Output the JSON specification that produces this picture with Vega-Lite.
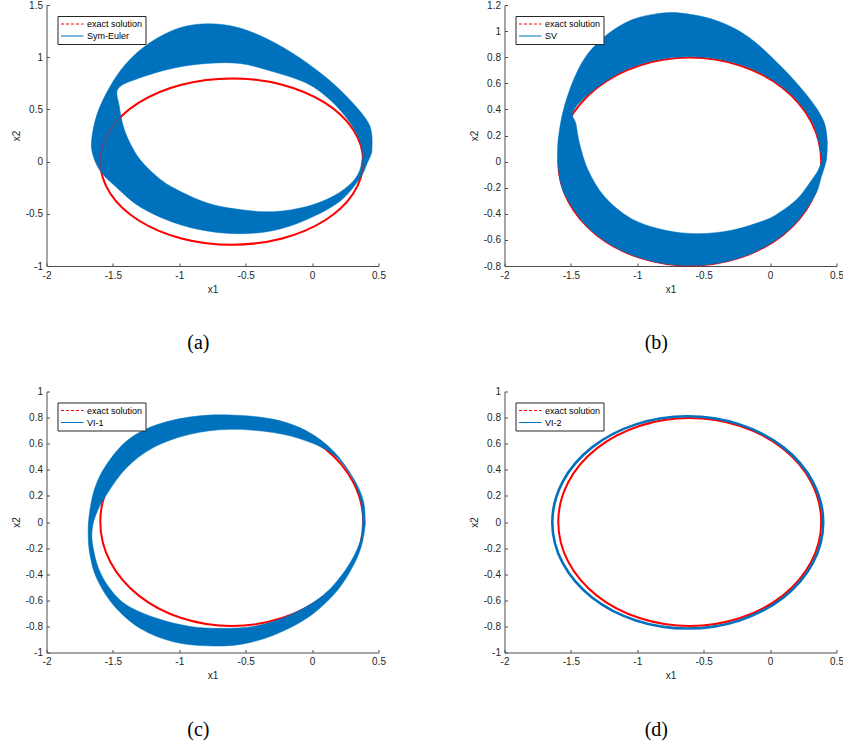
{
  "$schema": "https://vega.github.io/schema/vega-lite/v6.json",
  "background": "white",
  "padding": {"left": 10.5, "top": 0, "right": 0, "bottom": 5},
  "config": {
    "view": {"stroke": null},
    "axis": {
      "domainColor": "#4d4d4d", "tickColor": "#4d4d4d", "tickSize": -3,
      "labelPadding": 7, "labelFont": "Liberation Sans", "labelFontSize": 10,
      "labelColor": "#262626", "labelFlush": false, "labelOverlap": false, "labelBound": false,
      "titleFont": "Liberation Sans", "titleFontSize": 10, "titleFontWeight": "normal",
      "titleColor": "#262626", "titlePadding": 4, "grid": false,
      "labelExpr": "datum.value < 0 ? '-' + format(-datum.value, '~g') : format(datum.value, '~g')"
    },
    "legend": {
      "orient": "none", "legendX": 11, "legendY": 11, "padding": 3, "rowPadding": 2,
      "strokeColor": "#262626", "fillColor": "white", "cornerRadius": 0,
      "labelFont": "Liberation Sans", "labelFontSize": 9, "labelColor": "#000000", "labelOffset": 16.5,
      "symbolType": "M-1,0H4", "symbolSize": 81, "symbolStrokeWidth": 1
    }
  },
  "datasets": {
    "exact": [
      {"k": 0, "x1": 0.385, "x2": 0, "s": "exact solution"},
      {"k": 1, "x1": 0.310, "x2": 0.305, "s": "exact solution"},
      {"k": 2, "x1": 0.095, "x2": 0.564, "s": "exact solution"},
      {"k": 3, "x1": -0.226, "x2": 0.736, "s": "exact solution"},
      {"k": 4, "x1": -0.605, "x2": 0.797, "s": "exact solution"},
      {"k": 5, "x1": -0.984, "x2": 0.736, "s": "exact solution"},
      {"k": 6, "x1": -1.305, "x2": 0.564, "s": "exact solution"},
      {"k": 7, "x1": -1.520, "x2": 0.305, "s": "exact solution"},
      {"k": 8, "x1": -1.595, "x2": 0, "s": "exact solution"},
      {"k": 9, "x1": -1.520, "x2": -0.305, "s": "exact solution"},
      {"k": 10, "x1": -1.305, "x2": -0.564, "s": "exact solution"},
      {"k": 11, "x1": -0.984, "x2": -0.736, "s": "exact solution"},
      {"k": 12, "x1": -0.605, "x2": -0.797, "s": "exact solution"},
      {"k": 13, "x1": -0.226, "x2": -0.736, "s": "exact solution"},
      {"k": 14, "x1": 0.095, "x2": -0.564, "s": "exact solution"},
      {"k": 15, "x1": 0.310, "x2": -0.305, "s": "exact solution"}
    ],
    "bandA": [
      {"k": 0, "x1": 0.45, "x2": 0.10, "s": "Sym-Euler"},
      {"k": 1, "x1": 0.45, "x2": 0.25, "s": "Sym-Euler"},
      {"k": 2, "x1": 0.42, "x2": 0.38, "s": "Sym-Euler"},
      {"k": 3, "x1": 0.30, "x2": 0.57, "s": "Sym-Euler"},
      {"k": 4, "x1": 0.12, "x2": 0.79, "s": "Sym-Euler"},
      {"k": 5, "x1": -0.10, "x2": 1.00, "s": "Sym-Euler"},
      {"k": 6, "x1": -0.33, "x2": 1.17, "s": "Sym-Euler"},
      {"k": 7, "x1": -0.56, "x2": 1.285, "s": "Sym-Euler"},
      {"k": 8, "x1": -0.78, "x2": 1.32, "s": "Sym-Euler"},
      {"k": 9, "x1": -1.00, "x2": 1.28, "s": "Sym-Euler"},
      {"k": 10, "x1": -1.22, "x2": 1.14, "s": "Sym-Euler"},
      {"k": 11, "x1": -1.40, "x2": 0.94, "s": "Sym-Euler"},
      {"k": 12, "x1": -1.53, "x2": 0.70, "s": "Sym-Euler"},
      {"k": 13, "x1": -1.62, "x2": 0.45, "s": "Sym-Euler"},
      {"k": 14, "x1": -1.66, "x2": 0.21, "s": "Sym-Euler"},
      {"k": 15, "x1": -1.65, "x2": 0.06, "s": "Sym-Euler"},
      {"k": 16, "x1": -1.59, "x2": -0.10, "s": "Sym-Euler"},
      {"k": 17, "x1": -1.47, "x2": -0.25, "s": "Sym-Euler"},
      {"k": 18, "x1": -1.30, "x2": -0.43, "s": "Sym-Euler"},
      {"k": 19, "x1": -1.05, "x2": -0.58, "s": "Sym-Euler"},
      {"k": 20, "x1": -0.79, "x2": -0.665, "s": "Sym-Euler"},
      {"k": 21, "x1": -0.54, "x2": -0.69, "s": "Sym-Euler"},
      {"k": 22, "x1": -0.29, "x2": -0.66, "s": "Sym-Euler"},
      {"k": 23, "x1": -0.04, "x2": -0.555, "s": "Sym-Euler"},
      {"k": 24, "x1": 0.21, "x2": -0.38, "s": "Sym-Euler"},
      {"k": 25, "x1": 0.36, "x2": -0.16, "s": "Sym-Euler"},
      {"k": 26, "x1": 0.41, "x2": -0.03, "s": "Sym-Euler"},
      {"k": 27, "x1": 0.45, "x2": 0.10, "s": "Sym-Euler"},
      {"k": 28, "x1": 0.383, "x2": 0.05, "s": "Sym-Euler"},
      {"k": 29, "x1": 0.36, "x2": -0.08, "s": "Sym-Euler"},
      {"k": 30, "x1": 0.30, "x2": -0.20, "s": "Sym-Euler"},
      {"k": 31, "x1": 0.161, "x2": -0.33, "s": "Sym-Euler"},
      {"k": 32, "x1": -0.04, "x2": -0.43, "s": "Sym-Euler"},
      {"k": 33, "x1": -0.291, "x2": -0.48, "s": "Sym-Euler"},
      {"k": 34, "x1": -0.543, "x2": -0.46, "s": "Sym-Euler"},
      {"k": 35, "x1": -0.794, "x2": -0.395, "s": "Sym-Euler"},
      {"k": 36, "x1": -1.045, "x2": -0.25, "s": "Sym-Euler"},
      {"k": 37, "x1": -1.171, "x2": -0.14, "s": "Sym-Euler"},
      {"k": 38, "x1": -1.296, "x2": 0.02, "s": "Sym-Euler"},
      {"k": 39, "x1": -1.372, "x2": 0.18, "s": "Sym-Euler"},
      {"k": 40, "x1": -1.422, "x2": 0.34, "s": "Sym-Euler"},
      {"k": 41, "x1": -1.452, "x2": 0.53, "s": "Sym-Euler"},
      {"k": 42, "x1": -1.46, "x2": 0.70, "s": "Sym-Euler"},
      {"k": 43, "x1": -1.30, "x2": 0.80, "s": "Sym-Euler"},
      {"k": 44, "x1": -1.045, "x2": 0.895, "s": "Sym-Euler"},
      {"k": 45, "x1": -0.794, "x2": 0.94, "s": "Sym-Euler"},
      {"k": 46, "x1": -0.543, "x2": 0.94, "s": "Sym-Euler"},
      {"k": 47, "x1": -0.291, "x2": 0.86, "s": "Sym-Euler"},
      {"k": 48, "x1": -0.04, "x2": 0.75, "s": "Sym-Euler"},
      {"k": 49, "x1": 0.136, "x2": 0.59, "s": "Sym-Euler"},
      {"k": 50, "x1": 0.27, "x2": 0.40, "s": "Sym-Euler"},
      {"k": 51, "x1": 0.355, "x2": 0.21, "s": "Sym-Euler"},
      {"k": 52, "x1": 0.383, "x2": 0.05, "s": "Sym-Euler"}
    ],
    "bandB": [
      {"k": 0, "x1": 0.425, "x2": 0.02, "s": "SV"},
      {"k": 1, "x1": 0.43, "x2": 0.164, "s": "SV"},
      {"k": 2, "x1": 0.40, "x2": 0.318, "s": "SV"},
      {"k": 3, "x1": 0.286, "x2": 0.497, "s": "SV"},
      {"k": 4, "x1": 0.085, "x2": 0.727, "s": "SV"},
      {"k": 5, "x1": -0.166, "x2": 0.957, "s": "SV"},
      {"k": 6, "x1": -0.417, "x2": 1.085, "s": "SV"},
      {"k": 7, "x1": -0.69, "x2": 1.14, "s": "SV"},
      {"k": 8, "x1": -0.87, "x2": 1.13, "s": "SV"},
      {"k": 9, "x1": -1.045, "x2": 1.085, "s": "SV"},
      {"k": 10, "x1": -1.22, "x2": 0.98, "s": "SV"},
      {"k": 11, "x1": -1.37, "x2": 0.83, "s": "SV"},
      {"k": 12, "x1": -1.47, "x2": 0.65, "s": "SV"},
      {"k": 13, "x1": -1.55, "x2": 0.42, "s": "SV"},
      {"k": 14, "x1": -1.59, "x2": 0.215, "s": "SV"},
      {"k": 15, "x1": -1.60, "x2": 0.062, "s": "SV"},
      {"k": 16, "x1": -1.585, "x2": -0.12, "s": "SV"},
      {"k": 17, "x1": -1.535, "x2": -0.273, "s": "SV"},
      {"k": 18, "x1": -1.363, "x2": -0.512, "s": "SV"},
      {"k": 19, "x1": -1.100, "x2": -0.690, "s": "SV"},
      {"k": 20, "x1": -0.777, "x2": -0.785, "s": "SV"},
      {"k": 21, "x1": -0.433, "x2": -0.785, "s": "SV"},
      {"k": 22, "x1": -0.110, "x2": -0.690, "s": "SV"},
      {"k": 23, "x1": 0.153, "x2": -0.512, "s": "SV"},
      {"k": 24, "x1": 0.33, "x2": -0.273, "s": "SV"},
      {"k": 25, "x1": 0.385, "x2": -0.12, "s": "SV"},
      {"k": 26, "x1": 0.425, "x2": 0.02, "s": "SV"},
      {"k": 27, "x1": 0.391, "x2": 0.0, "s": "SV"},
      {"k": 28, "x1": 0.36, "x2": -0.07, "s": "SV"},
      {"k": 29, "x1": 0.30, "x2": -0.16, "s": "SV"},
      {"k": 30, "x1": 0.21, "x2": -0.28, "s": "SV"},
      {"k": 31, "x1": 0.085, "x2": -0.38, "s": "SV"},
      {"k": 32, "x1": -0.04, "x2": -0.45, "s": "SV"},
      {"k": 33, "x1": -0.29, "x2": -0.526, "s": "SV"},
      {"k": 34, "x1": -0.54, "x2": -0.552, "s": "SV"},
      {"k": 35, "x1": -0.79, "x2": -0.526, "s": "SV"},
      {"k": 36, "x1": -1.045, "x2": -0.437, "s": "SV"},
      {"k": 37, "x1": -1.246, "x2": -0.27, "s": "SV"},
      {"k": 38, "x1": -1.37, "x2": -0.066, "s": "SV"},
      {"k": 39, "x1": -1.435, "x2": 0.139, "s": "SV"},
      {"k": 40, "x1": -1.462, "x2": 0.29, "s": "SV"},
      {"k": 41, "x1": -1.485, "x2": 0.378, "s": "SV"},
      {"k": 42, "x1": -1.368, "x2": 0.517, "s": "SV"},
      {"k": 43, "x1": -1.103, "x2": 0.696, "s": "SV"},
      {"k": 44, "x1": -0.778, "x2": 0.791, "s": "SV"},
      {"k": 45, "x1": -0.432, "x2": 0.791, "s": "SV"},
      {"k": 46, "x1": -0.107, "x2": 0.696, "s": "SV"},
      {"k": 47, "x1": 0.157, "x2": 0.517, "s": "SV"},
      {"k": 48, "x1": 0.330, "x2": 0.278, "s": "SV"},
      {"k": 49, "x1": 0.391, "x2": 0.0, "s": "SV"}
    ],
    "bandC": [
      {"k": 0, "x1": 0.40, "x2": -0.02, "s": "VI-1"},
      {"k": 1, "x1": 0.387, "x2": 0.159, "s": "VI-1"},
      {"k": 2, "x1": 0.31, "x2": 0.338, "s": "VI-1"},
      {"k": 3, "x1": 0.16, "x2": 0.544, "s": "VI-1"},
      {"k": 4, "x1": -0.04, "x2": 0.697, "s": "VI-1"},
      {"k": 5, "x1": -0.29, "x2": 0.787, "s": "VI-1"},
      {"k": 6, "x1": -0.618, "x2": 0.82, "s": "VI-1"},
      {"k": 7, "x1": -0.92, "x2": 0.805, "s": "VI-1"},
      {"k": 8, "x1": -1.196, "x2": 0.736, "s": "VI-1"},
      {"k": 9, "x1": -1.397, "x2": 0.62, "s": "VI-1"},
      {"k": 10, "x1": -1.548, "x2": 0.44, "s": "VI-1"},
      {"k": 11, "x1": -1.636, "x2": 0.26, "s": "VI-1"},
      {"k": 12, "x1": -1.678, "x2": 0.056, "s": "VI-1"},
      {"k": 13, "x1": -1.686, "x2": -0.097, "s": "VI-1"},
      {"k": 14, "x1": -1.673, "x2": -0.25, "s": "VI-1"},
      {"k": 15, "x1": -1.623, "x2": -0.43, "s": "VI-1"},
      {"k": 16, "x1": -1.497, "x2": -0.636, "s": "VI-1"},
      {"k": 17, "x1": -1.296, "x2": -0.815, "s": "VI-1"},
      {"k": 18, "x1": -1.045, "x2": -0.918, "s": "VI-1"},
      {"k": 19, "x1": -0.79, "x2": -0.949, "s": "VI-1"},
      {"k": 20, "x1": -0.54, "x2": -0.938, "s": "VI-1"},
      {"k": 21, "x1": -0.29, "x2": -0.867, "s": "VI-1"},
      {"k": 22, "x1": -0.04, "x2": -0.738, "s": "VI-1"},
      {"k": 23, "x1": 0.16, "x2": -0.56, "s": "VI-1"},
      {"k": 24, "x1": 0.286, "x2": -0.38, "s": "VI-1"},
      {"k": 25, "x1": 0.367, "x2": -0.2, "s": "VI-1"},
      {"k": 26, "x1": 0.40, "x2": -0.02, "s": "VI-1"},
      {"k": 27, "x1": 0.382, "x2": 0.005, "s": "VI-1"},
      {"k": 28, "x1": 0.362, "x2": -0.149, "s": "VI-1"},
      {"k": 29, "x1": 0.26, "x2": -0.354, "s": "VI-1"},
      {"k": 30, "x1": 0.085, "x2": -0.56, "s": "VI-1"},
      {"k": 31, "x1": -0.166, "x2": -0.713, "s": "VI-1"},
      {"k": 32, "x1": -0.417, "x2": -0.795, "s": "VI-1"},
      {"k": 33, "x1": -0.668, "x2": -0.815, "s": "VI-1"},
      {"k": 34, "x1": -0.92, "x2": -0.80, "s": "VI-1"},
      {"k": 35, "x1": -1.17, "x2": -0.738, "s": "VI-1"},
      {"k": 36, "x1": -1.397, "x2": -0.636, "s": "VI-1"},
      {"k": 37, "x1": -1.53, "x2": -0.50, "s": "VI-1"},
      {"k": 38, "x1": -1.61, "x2": -0.35, "s": "VI-1"},
      {"k": 39, "x1": -1.648, "x2": -0.20, "s": "VI-1"},
      {"k": 40, "x1": -1.658, "x2": -0.08, "s": "VI-1"},
      {"k": 41, "x1": -1.63, "x2": 0.05, "s": "VI-1"},
      {"k": 42, "x1": -1.548, "x2": 0.21, "s": "VI-1"},
      {"k": 43, "x1": -1.397, "x2": 0.415, "s": "VI-1"},
      {"k": 44, "x1": -1.196, "x2": 0.57, "s": "VI-1"},
      {"k": 45, "x1": -0.92, "x2": 0.672, "s": "VI-1"},
      {"k": 46, "x1": -0.62, "x2": 0.71, "s": "VI-1"},
      {"k": 47, "x1": -0.29, "x2": 0.685, "s": "VI-1"},
      {"k": 48, "x1": -0.04, "x2": 0.62, "s": "VI-1"},
      {"k": 49, "x1": 0.16, "x2": 0.518, "s": "VI-1"},
      {"k": 50, "x1": 0.286, "x2": 0.364, "s": "VI-1"},
      {"k": 51, "x1": 0.362, "x2": 0.185, "s": "VI-1"},
      {"k": 52, "x1": 0.382, "x2": 0.005, "s": "VI-1"}
    ],
    "orbitD": [
      {"k": 0, "x1": 0.40, "x2": -0.003, "s": "VI-2"},
      {"k": 1, "x1": 0.322, "x2": 0.308, "s": "VI-2"},
      {"k": 2, "x1": 0.101, "x2": 0.572, "s": "VI-2"},
      {"k": 3, "x1": -0.230, "x2": 0.748, "s": "VI-2"},
      {"k": 4, "x1": -0.62, "x2": 0.81, "s": "VI-2"},
      {"k": 5, "x1": -1.010, "x2": 0.748, "s": "VI-2"},
      {"k": 6, "x1": -1.341, "x2": 0.572, "s": "VI-2"},
      {"k": 7, "x1": -1.562, "x2": 0.308, "s": "VI-2"},
      {"k": 8, "x1": -1.64, "x2": -0.003, "s": "VI-2"},
      {"k": 9, "x1": -1.562, "x2": -0.314, "s": "VI-2"},
      {"k": 10, "x1": -1.341, "x2": -0.578, "s": "VI-2"},
      {"k": 11, "x1": -1.010, "x2": -0.754, "s": "VI-2"},
      {"k": 12, "x1": -0.62, "x2": -0.816, "s": "VI-2"},
      {"k": 13, "x1": -0.230, "x2": -0.754, "s": "VI-2"},
      {"k": 14, "x1": 0.101, "x2": -0.578, "s": "VI-2"},
      {"k": 15, "x1": 0.322, "x2": -0.314, "s": "VI-2"}
    ]
  },
  "columns": 2,
  "spacing": {"row": 125.5, "column": 126},
  "bounds": "flush",
  "resolve": {"scale": {"color": "independent", "x": "independent", "y": "independent"}, "legend": {"color": "independent"}},
  "concat": [
    {
      "width": 332, "height": 261,
      "title": {"text": "(a)", "orient": "bottom", "font": "Liberation Serif", "fontSize": 20, "fontWeight": "normal", "color": "#000000", "offset": 39, "anchor": "middle", "frame": "bounds"},
      "encoding": {
        "x": {"field": "x1", "type": "quantitative", "scale": {"domain": [-2, 0.5], "nice": false, "zero": false}, "axis": {"title": "x1", "values": [-2, -1.5, -1, -0.5, 0, 0.5]}},
        "y": {"field": "x2", "type": "quantitative", "scale": {"domain": [-1, 1.5], "nice": false, "zero": false}, "axis": {"title": "x2", "values": [-1, -0.5, 0, 0.5, 1, 1.5]}},
        "order": {"field": "k", "type": "quantitative"}
      },
      "layer": [
        {"data": {"name": "exact"}, "mark": {"type": "line", "interpolate": "cardinal-closed", "strokeWidth": 2},
         "encoding": {"color": {"field": "s", "type": "nominal", "scale": {"domain": ["exact solution", "Sym-Euler"], "range": ["#FF0000", "#0072BD"]},
           "legend": {"title": null, "encoding": {"symbols": {"strokeDash": {"condition": {"test": "datum.value === 'exact solution'", "value": [3, 2]}, "value": [1, 0]}, "strokeWidth": {"value": 1}}}}}}},
        {"data": {"name": "bandA"}, "mark": {"type": "line", "interpolate": "cardinal", "fill": "#0072BD", "strokeWidth": 0.5},
         "encoding": {"color": {"field": "s", "type": "nominal", "scale": {"domain": ["exact solution", "Sym-Euler"], "range": ["#FF0000", "#0072BD"]},
           "legend": {"title": null, "encoding": {"symbols": {"strokeDash": {"condition": {"test": "datum.value === 'exact solution'", "value": [3, 2]}, "value": [1, 0]}, "strokeWidth": {"value": 1}}}}}}},
        {"data": {"name": "exact"}, "mark": {"type": "line", "interpolate": "cardinal-closed", "strokeWidth": 1.5, "stroke": "#FF0000", "opacity": 0.35}}
      ]
    },
    {
      "width": 332, "height": 261,
      "title": {"text": "(b)", "orient": "bottom", "font": "Liberation Serif", "fontSize": 20, "fontWeight": "normal", "color": "#000000", "offset": 39, "anchor": "middle", "frame": "bounds"},
      "encoding": {
        "x": {"field": "x1", "type": "quantitative", "scale": {"domain": [-2, 0.5], "nice": false, "zero": false}, "axis": {"title": "x1", "values": [-2, -1.5, -1, -0.5, 0, 0.5]}},
        "y": {"field": "x2", "type": "quantitative", "scale": {"domain": [-0.8, 1.2], "nice": false, "zero": false}, "axis": {"title": "x2", "values": [-0.8, -0.6, -0.4, -0.2, 0, 0.2, 0.4, 0.6, 0.8, 1, 1.2]}},
        "order": {"field": "k", "type": "quantitative"}
      },
      "layer": [
        {"data": {"name": "exact"}, "mark": {"type": "line", "interpolate": "cardinal-closed", "strokeWidth": 2},
         "encoding": {"color": {"field": "s", "type": "nominal", "scale": {"domain": ["exact solution", "SV"], "range": ["#FF0000", "#0072BD"]},
           "legend": {"title": null, "encoding": {"symbols": {"strokeDash": {"condition": {"test": "datum.value === 'exact solution'", "value": [3, 2]}, "value": [1, 0]}, "strokeWidth": {"value": 1}}}}}}},
        {"data": {"name": "bandB"}, "mark": {"type": "line", "interpolate": "cardinal", "fill": "#0072BD", "strokeWidth": 0.5},
         "encoding": {"color": {"field": "s", "type": "nominal", "scale": {"domain": ["exact solution", "SV"], "range": ["#FF0000", "#0072BD"]},
           "legend": {"title": null, "encoding": {"symbols": {"strokeDash": {"condition": {"test": "datum.value === 'exact solution'", "value": [3, 2]}, "value": [1, 0]}, "strokeWidth": {"value": 1}}}}}}}
      ]
    },
    {
      "width": 332, "height": 261,
      "title": {"text": "(c)", "orient": "bottom", "font": "Liberation Serif", "fontSize": 20, "fontWeight": "normal", "color": "#000000", "offset": 39, "anchor": "middle", "frame": "bounds"},
      "encoding": {
        "x": {"field": "x1", "type": "quantitative", "scale": {"domain": [-2, 0.5], "nice": false, "zero": false}, "axis": {"title": "x1", "values": [-2, -1.5, -1, -0.5, 0, 0.5]}},
        "y": {"field": "x2", "type": "quantitative", "scale": {"domain": [-1, 1], "nice": false, "zero": false}, "axis": {"title": "x2", "values": [-1, -0.8, -0.6, -0.4, -0.2, 0, 0.2, 0.4, 0.6, 0.8, 1]}},
        "order": {"field": "k", "type": "quantitative"}
      },
      "layer": [
        {"data": {"name": "exact"}, "mark": {"type": "line", "interpolate": "cardinal-closed", "strokeWidth": 2},
         "encoding": {"color": {"field": "s", "type": "nominal", "scale": {"domain": ["exact solution", "VI-1"], "range": ["#FF0000", "#0072BD"]},
           "legend": {"title": null, "encoding": {"symbols": {"strokeDash": {"condition": {"test": "datum.value === 'exact solution'", "value": [3, 2]}, "value": [1, 0]}, "strokeWidth": {"value": 1}}}}}}},
        {"data": {"name": "bandC"}, "mark": {"type": "line", "interpolate": "cardinal", "fill": "#0072BD", "strokeWidth": 0.5},
         "encoding": {"color": {"field": "s", "type": "nominal", "scale": {"domain": ["exact solution", "VI-1"], "range": ["#FF0000", "#0072BD"]},
           "legend": {"title": null, "encoding": {"symbols": {"strokeDash": {"condition": {"test": "datum.value === 'exact solution'", "value": [3, 2]}, "value": [1, 0]}, "strokeWidth": {"value": 1}}}}}}}
      ]
    },
    {
      "width": 332, "height": 261,
      "title": {"text": "(d)", "orient": "bottom", "font": "Liberation Serif", "fontSize": 20, "fontWeight": "normal", "color": "#000000", "offset": 39, "anchor": "middle", "frame": "bounds"},
      "encoding": {
        "x": {"field": "x1", "type": "quantitative", "scale": {"domain": [-2, 0.5], "nice": false, "zero": false}, "axis": {"title": "x1", "values": [-2, -1.5, -1, -0.5, 0, 0.5]}},
        "y": {"field": "x2", "type": "quantitative", "scale": {"domain": [-1, 1], "nice": false, "zero": false}, "axis": {"title": "x2", "values": [-1, -0.8, -0.6, -0.4, -0.2, 0, 0.2, 0.4, 0.6, 0.8, 1]}},
        "order": {"field": "k", "type": "quantitative"}
      },
      "layer": [
        {"data": {"name": "exact"}, "mark": {"type": "line", "interpolate": "cardinal-closed", "strokeWidth": 2},
         "encoding": {"color": {"field": "s", "type": "nominal", "scale": {"domain": ["exact solution", "VI-2"], "range": ["#FF0000", "#0072BD"]},
           "legend": {"title": null, "encoding": {"symbols": {"strokeDash": {"condition": {"test": "datum.value === 'exact solution'", "value": [3, 2]}, "value": [1, 0]}, "strokeWidth": {"value": 1}}}}}}},
        {"data": {"name": "orbitD"}, "mark": {"type": "line", "interpolate": "cardinal-closed", "strokeWidth": 2.6},
         "encoding": {"color": {"field": "s", "type": "nominal", "scale": {"domain": ["exact solution", "VI-2"], "range": ["#FF0000", "#0072BD"]},
           "legend": {"title": null, "encoding": {"symbols": {"strokeDash": {"condition": {"test": "datum.value === 'exact solution'", "value": [3, 2]}, "value": [1, 0]}, "strokeWidth": {"value": 1}}}}}}}
      ]
    }
  ]
}
